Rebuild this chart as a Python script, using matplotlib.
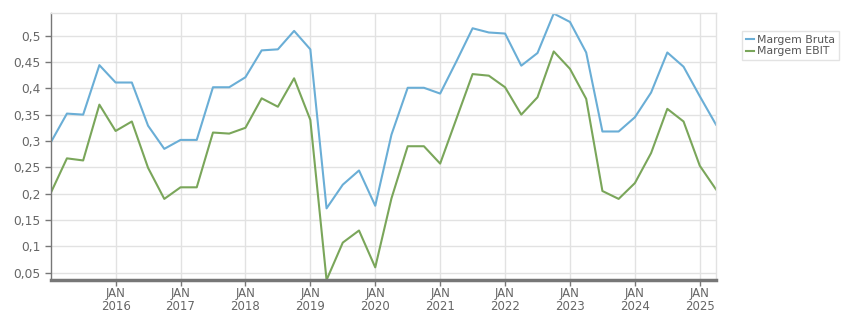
import matplotlib
matplotlib.use("Agg")
import matplotlib.pyplot as plt
from matplotlib.ticker import FixedLocator, FuncFormatter

# quarterly points, first one at end of 2014
periods = [2015 + i * 0.25 for i in range(42)]

margem_bruta = [
    0.297, 0.352, 0.350, 0.444, 0.411, 0.411, 0.329, 0.285, 0.302, 0.302,
    0.402, 0.402, 0.421, 0.472, 0.474, 0.509, 0.474, 0.172, 0.217, 0.244,
    0.177, 0.312, 0.401, 0.401, 0.390, 0.451, 0.514, 0.506, 0.504, 0.443,
    0.467, 0.542, 0.526, 0.468, 0.318, 0.318, 0.345, 0.392, 0.468, 0.441,
    0.385, 0.331,
]
margem_ebit = [
    0.201, 0.267, 0.263, 0.369, 0.319, 0.337, 0.249, 0.190, 0.212, 0.212,
    0.316, 0.314, 0.325, 0.381, 0.365, 0.419, 0.340, 0.036, 0.107, 0.130,
    0.060, 0.191, 0.290, 0.290, 0.257, 0.342, 0.427, 0.424, 0.402, 0.350,
    0.383, 0.470, 0.437, 0.380, 0.205, 0.190, 0.220, 0.277, 0.361, 0.337,
    0.253, 0.208,
]

years = list(range(2016, 2026))
year_labels = [f"JAN\n{y}" for y in years]
y_ticks = [0.05, 0.1, 0.15, 0.2, 0.25, 0.3, 0.35, 0.4, 0.45, 0.5]

fig = plt.figure(figsize=(8.51, 3.13), dpi=100)
ax = fig.add_axes([50.7 / 851, 33 / 313, (716 - 50.7) / 851, (280 - 13) / 313])

ax.plot(periods, margem_bruta, color="#6aaed6", lw=1.5, label="Margem Bruta")
ax.plot(periods, margem_ebit, color="#7aa65a", lw=1.5, label="Margem EBIT")

ax.set_xlim(periods[0], periods[-1])
ax.set_ylim(0.036, 0.543)

ax.xaxis.set_major_locator(FixedLocator(years))
ax.set_xticklabels(year_labels)
ax.yaxis.set_major_locator(FixedLocator(y_ticks))
ax.yaxis.set_major_formatter(FuncFormatter(lambda v, p: f"{v:g}".replace(".", ",")))

ax.grid(True, color="#e2e2e2", lw=1)
ax.set_axisbelow(True)

for s in ("top", "right"):
    ax.spines[s].set_color("#e2e2e2")
    ax.spines[s].set_linewidth(1)
ax.spines["left"].set_color("#777777")
ax.spines["left"].set_linewidth(1)
ax.spines["bottom"].set_color("#777777")
ax.spines["bottom"].set_linewidth(2.5)

ax.tick_params(axis="both", colors="#777777", labelcolor="#666666", labelsize=8.8,
               length=4, width=1)
ax.tick_params(axis="x", labelsize=8.5, pad=1)
ax.tick_params(axis="y", pad=3)
for lab in ax.get_xticklabels():
    lab.set_linespacing(1.0)

leg = fig.legend(loc="upper left", bbox_to_anchor=(737 / 851, 1 - 26 / 313),
                 fontsize=7.8, frameon=True, fancybox=False, handlelength=0.7,
                 handletextpad=0.3, borderpad=0.35, labelspacing=0.1,
                 labelcolor="#555555")
leg.get_frame().set_edgecolor("#dddddd")
leg.get_frame().set_linewidth(1)

fig.savefig("out.png", dpi=100)
